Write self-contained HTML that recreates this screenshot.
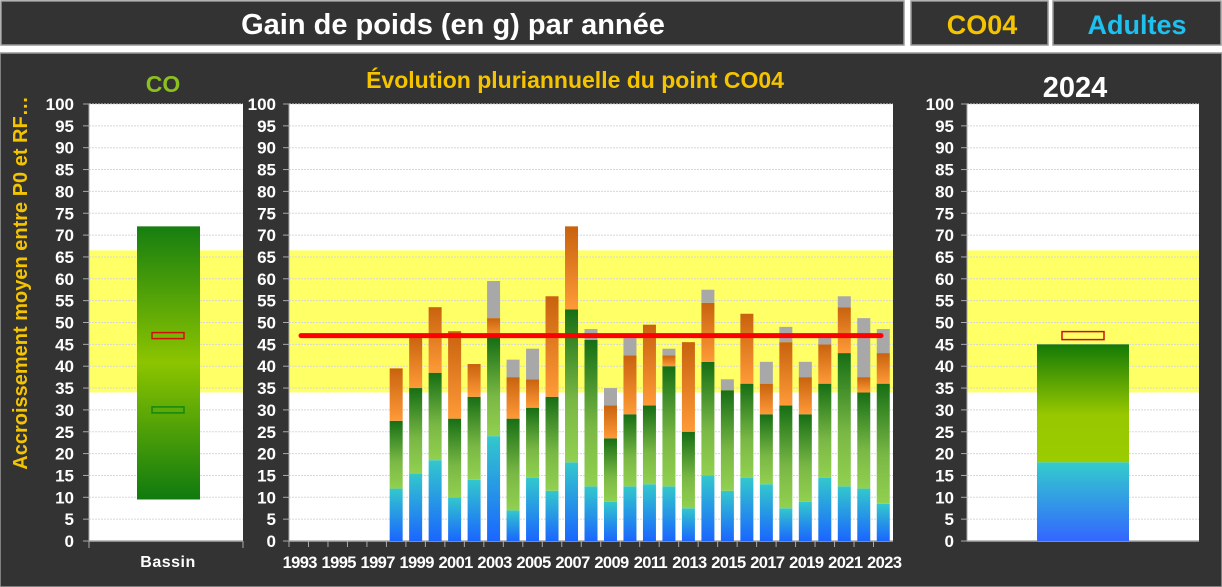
<!DOCTYPE html>
<html><head><meta charset="utf-8"><style>
html,body{margin:0;padding:0;background:#fff;width:1222px;height:587px;overflow:hidden}
svg{display:block;font-family:"Liberation Sans",sans-serif;font-weight:bold}
</style></head><body>
<svg id="s" width="1222" height="587" xmlns="http://www.w3.org/2000/svg">
<defs>
<linearGradient id="gb" x1="0" y1="1" x2="0" y2="0"><stop offset="0" stop-color="#1a66ff"/><stop offset="1" stop-color="#33c8cc"/></linearGradient>
<linearGradient id="gg" x1="0" y1="1" x2="0" y2="0"><stop offset="0" stop-color="#92d050"/><stop offset="0.4" stop-color="#7ab845"/><stop offset="1" stop-color="#166e14"/></linearGradient>
<linearGradient id="go" x1="0" y1="1" x2="0" y2="0"><stop offset="0" stop-color="#ff9a38"/><stop offset="1" stop-color="#c8620e"/></linearGradient>
<linearGradient id="gl" x1="0" y1="0" x2="0" y2="1"><stop offset="0" stop-color="#167e10"/><stop offset="0.5" stop-color="#8cc400"/><stop offset="1" stop-color="#0f7a0f"/></linearGradient>
<linearGradient id="gr" x1="0" y1="0" x2="0" y2="1"><stop offset="0" stop-color="#147a06"/><stop offset="0.6" stop-color="#98c800"/><stop offset="1" stop-color="#9acc00"/></linearGradient>
<linearGradient id="grb" x1="0" y1="0" x2="0" y2="1"><stop offset="0" stop-color="#33cccc"/><stop offset="1" stop-color="#3366ff"/></linearGradient>
</defs>
<rect x="0" y="0" width="1222" height="587" fill="#fff"/>
<rect x="1" y="1" width="903" height="44" fill="#333" stroke="#999" stroke-width="1.5"/>
<rect x="911" y="1" width="137" height="44" fill="#333" stroke="#999" stroke-width="1.5"/>
<rect x="1053" y="1" width="168" height="44" fill="#333" stroke="#999" stroke-width="1.5"/>
<text x="453" y="34" fill="#fff" font-size="29" text-anchor="middle">Gain de poids (en g) par année</text>
<text x="982" y="34" fill="#f5c400" font-size="27" text-anchor="middle">CO04</text>
<text x="1137" y="34" fill="#1ec0ef" font-size="27" text-anchor="middle">Adultes</text>
<rect x="0" y="53" width="1222" height="534" fill="#333" stroke="#999" stroke-width="1.5"/>
<text x="163" y="92" fill="#8cc01e" font-size="23" text-anchor="middle">CO</text>
<text x="575" y="88" fill="#f5c400" font-size="23" text-anchor="middle">Évolution pluriannuelle du point CO04</text>
<text x="1075" y="97" fill="#fff" font-size="29" text-anchor="middle">2024</text>
<text transform="translate(27,283) rotate(-90)" fill="#f5c400" font-size="20" text-anchor="middle">Accroissement  moyen entre P0 et RF…</text>
<g id="g"></g>
</svg>
<script>
var g=document.getElementById('g'),h='';
function Y(v){return 541-4.37*v}
function panel(x0,x1,lx){
 h+='<rect x="'+x0+'" y="104" width="'+(x1-x0)+'" height="437" fill="#fff"/>';
 h+='<rect x="'+x0+'" y="'+Y(66.5)+'" width="'+(x1-x0)+'" height="'+(4.37*32.5)+'" fill="#ffff66"/>';
 for(var v=0;v<=100;v+=5){var y=Y(v);
  if(v>0)h+='<line x1="'+x0+'" x2="'+x1+'" y1="'+y+'" y2="'+y+'" stroke="#d8d8d8" stroke-width="1" stroke-dasharray="2,1"/>';
  h+='<line x1="'+(x0-6)+'" x2="'+x0+'" y1="'+y+'" y2="'+y+'" stroke="#aaa"/>';
  h+='<text x="'+lx+'" y="'+(y+6)+'" fill="#fff" font-size="17" text-anchor="end">'+v+'</text>';}
 h+='<line x1="'+x0+'" x2="'+x0+'" y1="104" y2="541" stroke="#aaa"/>';
 h+='<line x1="'+x0+'" x2="'+x1+'" y1="541" y2="541" stroke="#aaa" stroke-width="1.5"/>';
}
panel(89,243,74);panel(289,893,276);panel(967,1199,954);
h+='<rect x="137" y="'+Y(72)+'" width="63" height="'+(4.37*62.5)+'" fill="url(#gl)"/>';
h+='<rect x="152" y="'+(Y(47)-3)+'" width="32" height="6" fill="none" stroke="#d01010" stroke-width="1.5"/>';
h+='<rect x="152" y="'+(Y(30)-3)+'" width="32" height="6" fill="none" stroke="#118811" stroke-width="1.5"/>';
h+='<line x1="89" x2="89" y1="541" y2="548" stroke="#aaa"/><line x1="243" x2="243" y1="541" y2="548" stroke="#aaa"/>';
h+='<text x="168" y="567" fill="#fff" font-size="16" text-anchor="middle" letter-spacing="0.5">Bassin</text>';
h+='<rect x="1037" y="'+Y(45)+'" width="92" height="'+(4.37*27)+'" fill="url(#gr)"/>';
h+='<rect x="1037" y="'+Y(18)+'" width="92" height="'+(4.37*18)+'" fill="url(#grb)"/>';
h+='<rect x="1062" y="'+(Y(47)-4)+'" width="42" height="8" fill="none" stroke="#d01010" stroke-width="1.5"/>';
var d={1998:[12,27.5,39.5,0],1999:[15.5,35,47,0],2000:[18.5,38.5,53.5,0],2001:[10,28,48,0],2002:[14,33,40.5,0],2003:[24,46.5,51,59.5],2004:[7,28,37.5,41.5],2005:[14.5,30.5,37,44],2006:[11.5,33,56,0],2007:[18,53,72,0],2008:[12.5,46,46,48.5],2009:[9,23.5,31,35],2010:[12.5,29,42.5,46.5],2011:[13,31,49.5,0],2012:[12.5,40,42.5,44],2013:[7.5,25,45.5,0],2014:[15,41,54.5,57.5],2015:[11.5,34.5,34.5,37],2016:[14.5,36,52,0],2017:[13,29,36,41],2018:[7.5,31,45.5,49],2019:[9,29,37.5,41],2020:[14.5,36,45,47.5],2021:[12.5,43,53.5,56],2022:[12,34,37.5,51],2023:[8.5,36,43,48.5]};
var sw=604/31;
for(var i=0;i<31;i++){var yr=1993+i,c=289+sw*(i+0.5);
 h+='<line x1="'+(289+sw*i)+'" x2="'+(289+sw*i)+'" y1="541" y2="547" stroke="#aaa"/>';
 if(i%2==0)h+='<text x="'+(c+1)+'" y="568" fill="#fff" font-size="16.5" text-anchor="middle" letter-spacing="-0.6">'+yr+'</text>';
 var b=d[yr];if(!b)continue;var x=c-6.5,w=13;
 function r(a,z,f){if(z>a)h+='<rect x="'+x+'" y="'+Y(z)+'" width="'+w+'" height="'+(4.37*(z-a))+'" fill="'+f+'"/>';}
 r(0,b[0],'url(#gb)');r(b[0],b[1],'url(#gg)');r(b[1],b[2],'url(#go)');r(b[2],b[3],'#a8a8a8');
}
h+='<line x1="301" x2="881" y1="'+Y(47)+'" y2="'+Y(47)+'" stroke="#ff0000" stroke-width="5" stroke-linecap="round"/>';
g.innerHTML=h;
</script>
</body></html>
